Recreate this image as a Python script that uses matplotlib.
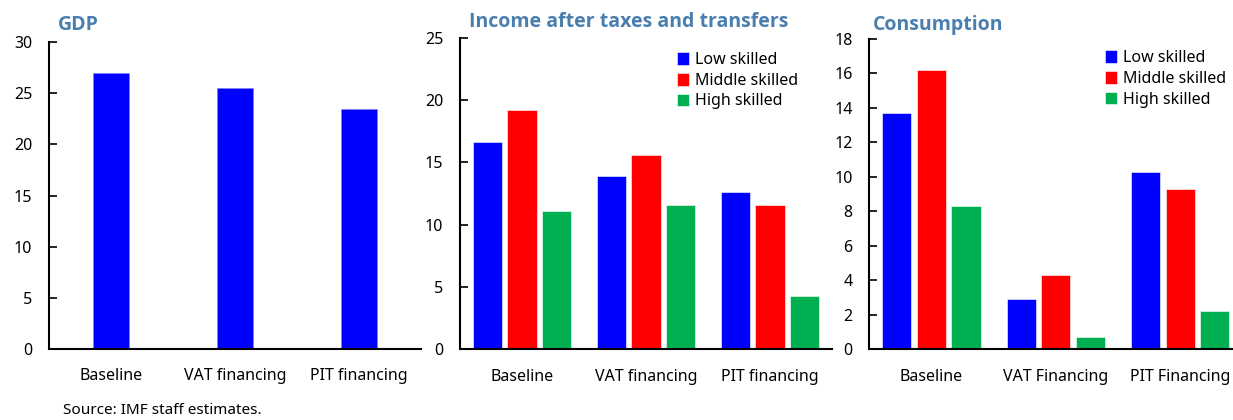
import matplotlib
matplotlib.use("Agg")
import matplotlib.pyplot as plt
import numpy as np

plt.rcParams['font.family'] = ['Noto Sans', 'DejaVu Sans']

gdp_categories = ["Baseline", "VAT financing", "PIT financing"]
gdp_values = [27.0, 25.5, 23.5]

inc_categories = ["Baseline", "VAT financing", "PIT financing"]
inc_low = [16.6, 13.9, 12.6]
inc_mid = [19.2, 15.6, 11.6]
inc_high = [11.1, 11.6, 4.3]

con_categories = ["Baseline", "VAT Financing", "PIT Financing"]
con_low = [13.7, 2.9, 10.3]
con_mid = [16.2, 4.3, 9.3]
con_high = [8.3, 0.7, 2.2]

series_names = ["Low skilled", "Middle skilled", "High skilled"]
colors = ["#0000FF", "#FF0000", "#00B050"]
title_color = "#4A7EAF"
title_family = ["Open Sans", "DejaVu Sans"]

W, H = 1233, 420
fig = plt.figure(figsize=(W / 100, H / 100), dpi=100)


def px_axes(left, zero, top, width):
    return fig.add_axes([left / W, (H - zero) / H, width / W, (zero - top) / H])


def style(ax, ymax, step):
    ax.set_ylim(0, ymax)
    ax.set_yticks(np.arange(0, ymax + 0.001, step))
    ax.set_xlim(-0.5, 2.5)
    for s in ["top", "right"]:
        ax.spines[s].set_visible(False)
    for s in ["left", "bottom"]:
        ax.spines[s].set_linewidth(1.5)
        ax.spines[s].set_color("black")
    ax.tick_params(axis="y", direction="in", length=6, width=1.2, labelsize=11.5, pad=12)
    ax.tick_params(axis="x", length=0, labelsize=11.5, pad=14)
    ax.patch.set_alpha(0)


# Panel 1: GDP
ax1 = px_axes(49, 349, 42, 372)
x = np.arange(len(gdp_categories))
ax1.bar(x, gdp_values, width=0.29, color=colors[0], edgecolor="#8080ff", linewidth=0.5)
ax1.set_xticks(x)
ax1.set_xticklabels(gdp_categories)
style(ax1, 30, 5)
fig.text(58 / W, 1 - 25 / H, "GDP", color=title_color, fontsize=14, fontweight="bold",
         va="center", family=title_family)


def grouped(ax, cats, data):
    xs = np.arange(len(cats))
    pitch = 0.278
    for i, (vals, name, c) in enumerate(zip(data, series_names, colors)):
        ax.bar(xs + (i - 1) * pitch, vals, width=0.234, color=c, label=name,
               edgecolor="white", linewidth=0.4)
    ax.set_xticks(xs)
    ax.set_xticklabels(cats)


# Panel 2: Income
ax2 = px_axes(460, 349.3, 37.7, 372)
grouped(ax2, inc_categories, [inc_low, inc_mid, inc_high])
style(ax2, 25, 5)
ax2.legend(loc="upper left", bbox_to_anchor=(0.565, 0.975), frameon=False, fontsize=11.5,
           handlelength=0.75, handleheight=0.85, handletextpad=0.4, labelspacing=0.3,
           borderaxespad=0)
fig.text(469 / W, 1 - 22 / H, "Income after taxes and transfers", color=title_color,
         fontsize=14, fontweight="bold", va="center", family=title_family)

# Panel 3: Consumption
ax3 = px_axes(869.3, 349.3, 39, 373)
grouped(ax3, con_categories, [con_low, con_mid, con_high])
style(ax3, 18, 2)
ax3.legend(loc="upper left", bbox_to_anchor=(0.615, 0.985), frameon=False, fontsize=11.5,
           handlelength=0.75, handleheight=0.85, handletextpad=0.4, labelspacing=0.3,
           borderaxespad=0)
fig.text(873 / W, 1 - 25 / H, "Consumption", color=title_color,
         fontsize=14, fontweight="bold", va="center", family=title_family)

fig.text(63 / W, 1 - 410 / H, "Source: IMF staff estimates.", fontsize=11, va="center")

fig.savefig("out.png", dpi=100)
